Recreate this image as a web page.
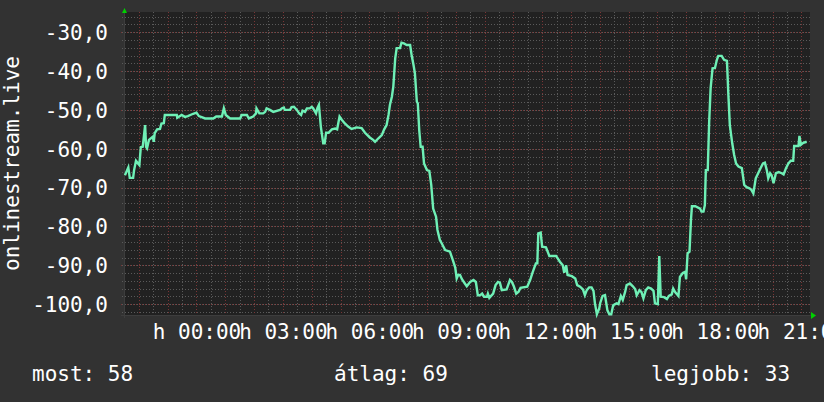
<!DOCTYPE html>
<html>
<head>
<meta charset="utf-8">
<script src="https://cdn.jsdelivr.net/npm/d3@7"></script>
<style>
  html, body { margin: 0; padding: 0; background: #323232; }
  svg { display: block; }
  text { font-family: 'DejaVu Sans Mono', monospace; fill: #ffffff; }
</style>
</head>
<body>
<div id="chart"></div>
<script>
// minutes from Monday 00:00 (negative = Sunday evening)
var minutes = [
  -149, -142, -139, -132, -130, -126, -119, -116, -112, -107, -105, -103, -99, -91, -89, -87, -82, -76, -73, -68,
  -66, -41, -40, -31, -24, -18, -7, 0, 5, 18, 35, 41, 53, 57, 61, 70, 91, 94, 105, 109,
  118, 124, 125, 131, 139, 143, 146, 153, 160, 174, 178, 182, 184, 195, 198, 203, 209, 214, 218, 221,
  226, 230, 236, 240, 243, 249, 252, 255, 259, 264, 267, 270, 275, 282, 289, 293, 298, 303, 309, 316,
  323, 334, 344, 351, 361, 368, 372, 379, 386, 391, 396, 400, 403, 407, 410, 414, 417, 424, 427, 432,
  438, 445, 448, 452, 455, 459, 461, 464, 467, 471, 474, 480, 485, 489, 493, 499, 502, 507, 511, 518,
  528, 534, 539, 542, 545, 549, 553, 559, 563, 570, 577, 582, 586, 591, 595, 599, 605, 607, 610, 618,
  623, 628, 632, 636, 646, 653, 657, 661, 666, 671, 675, 689, 695, 700, 707, 710, 712, 717, 720, 728,
  735, 749, 757, 763, 766, 770, 773, 782, 789, 793, 799, 805, 809, 813, 818, 823, 827, 830, 834, 839,
  841, 846, 851, 856, 860, 864, 868, 875, 879, 884, 888, 893, 896, 903, 909, 914, 917, 923, 927, 931,
  936, 941, 947, 952, 955, 961, 964, 967, 974, 980, 984, 990, 993, 997, 1004, 1007, 1013, 1018, 1020, 1023,
  1027, 1030, 1032, 1039, 1049, 1052, 1056, 1059, 1061, 1065, 1068, 1071, 1075, 1080, 1084, 1087, 1094, 1099, 1105, 1108,
  1111, 1116, 1120, 1124, 1129, 1136, 1141, 1146, 1152, 1156, 1160, 1165, 1170, 1175, 1180, 1184, 1188, 1191, 1195, 1198,
  1202, 1207, 1213, 1219, 1223, 1228, 1233, 1238, 1243, 1245, 1254, 1256, 1259, 1264, 1271
]
var values = [
  -66.8, -64.8, -67.5, -67.5, -65.5, -63.1, -64.2, -59.6, -59.5, -53.9, -59.5, -59.9, -57.7, -56.9, -58.2, -56.0, -55.0, -54.9, -53.5, -53.4,
  -51.3, -51.3, -52.0, -51.3, -51.8, -51.6, -51.0, -50.7, -51.6, -52.2, -52.2, -51.7, -51.7, -49.6, -51.3, -52.2, -52.2, -51.3, -51.3, -52.2,
  -51.7, -50.9, -49.6, -50.9, -50.9, -50.5, -49.6, -50.0, -50.5, -50.0, -49.6, -49.4, -50.0, -50.0, -49.3, -49.2, -50.0, -50.9, -51.3, -50.2,
  -50.5, -49.6, -49.6, -49.2, -49.6, -50.9, -49.5, -48.7, -54.3, -58.6, -58.6, -55.9, -55.9, -55.0, -54.8, -55.0, -51.7, -52.6, -53.5, -54.3,
  -54.9, -54.5, -54.7, -55.9, -57.1, -57.7, -58.2, -57.3, -56.5, -55.0, -53.9, -51.3, -48.7, -46.6, -44.0, -36.7, -34.1, -34.1, -32.7, -32.9,
  -33.3, -33.3, -35.8, -38.4, -40.6, -47.9, -48.3, -55.2, -59.5, -59.5, -63.8, -65.5, -65.7, -69.3, -75.4, -77.5, -80.9, -83.5, -84.4, -86.1,
  -86.5, -88.7, -90.6, -93.4, -92.5, -92.5, -93.6, -94.7, -95.4, -94.3, -93.8, -94.3, -97.7, -97.7, -97.3, -98.1, -98.1, -97.3, -98.4, -97.3,
  -95.1, -94.3, -94.5, -96.4, -96.2, -93.8, -94.3, -95.4, -97.3, -96.8, -95.8, -95.5, -93.8, -91.9, -89.5, -89.5, -81.8, -81.6, -85.2, -85.4,
  -87.6, -87.6, -89.1, -90.0, -91.9, -90.0, -92.5, -92.8, -93.4, -95.1, -95.5, -96.2, -97.7, -96.4, -95.7, -95.7, -96.6, -99.8, -102.6, -101.1,
  -99.7, -97.9, -97.7, -101.6, -102.6, -102.6, -100.3, -99.8, -100.0, -97.9, -98.9, -96.8, -95.1, -94.7, -95.4, -96.2, -97.7, -96.4, -96.9, -98.5,
  -96.4, -95.7, -96.0, -96.6, -99.8, -100.0, -87.6, -98.1, -98.2, -98.7, -97.9, -97.5, -96.0, -96.9, -97.9, -93.0, -92.0, -91.7, -93.6, -86.9,
  -86.5, -78.4, -74.8, -74.8, -75.4, -76.2, -76.2, -74.5, -65.5, -65.5, -53.0, -44.4, -39.3, -39.2, -37.1, -36.1, -36.1, -37.1, -37.4, -46.2,
  -53.9, -58.6, -61.6, -63.8, -64.6, -65.0, -69.3, -69.9, -70.2, -70.6, -71.5, -67.6, -66.3, -65.0, -63.8, -63.6, -65.5, -67.6, -66.3, -66.8,
  -68.9, -66.3, -66.0, -66.3, -66.6, -65.0, -63.8, -63.1, -63.1, -59.3, -59.3, -56.7, -59.0, -58.5, -58.2
]
var yTickValues = [-100, -90, -80, -70, -60, -50, -40, -30]
var axisTitle = 'onlinestream.live'
var legendLabels = ['most: 58', 'átlag: 69', 'legjobb: 33']

var totalWidth = 824
var totalHeight = 402
var margin = { top: 12, left: 124, right: 14, bottom: 87 }
var width = totalWidth - margin.left - margin.right
var height = totalHeight - margin.top - margin.bottom

var monday = new Date(2024, 0, 1)
var toDate = m => new Date(monday.getTime() + m * 60000)

var svg = d3
  .select('#chart')
  .append('svg')
  .attr('width', totalWidth)
  .attr('height', totalHeight)

svg
  .append('rect')
  .attr('width', totalWidth)
  .attr('height', totalHeight)
  .attr('fill', '#323232')

var g = svg
  .append('g')
  .attr('transform', `translate(${margin.left}, ${margin.top})`)

var xPositionScale = d3
  .scaleTime()
  .domain([toDate(-151), toDate(1278)])
  .range([0, width])
var yPositionScale = d3
  .scaleLinear()
  .domain([-102.8, -24.8])
  .range([height, 0])

g.append('rect')
  .attr('width', width)
  .attr('height', height)
  .attr('fill', '#212121')

// grid: minor every 30 min / 2 units, major every hour / 10 units
var minorX = d3.timeMinute.every(30).range(toDate(-151), toDate(1278))
var majorX = d3.timeHour.every(1).range(toDate(-151), toDate(1278))
var minorY = d3.range(-102, -24, 2)

g.selectAll('.minor-x')
  .data(minorX)
  .enter()
  .append('line')
  .attr('x1', d => Math.round(xPositionScale(d)) + 0.5)
  .attr('x2', d => Math.round(xPositionScale(d)) + 0.5)
  .attr('y1', 0)
  .attr('y2', height + 2)
  .attr('stroke', '#5a5a5a')
  .attr('stroke-dasharray', '1,2')

g.selectAll('.minor-y')
  .data(minorY)
  .enter()
  .append('line')
  .attr('x1', -2)
  .attr('x2', width)
  .attr('y1', d => Math.round(yPositionScale(d)) + 0.5)
  .attr('y2', d => Math.round(yPositionScale(d)) + 0.5)
  .attr('stroke', '#5a5a5a')
  .attr('stroke-dasharray', '1,2')

g.selectAll('.major-x')
  .data(majorX)
  .enter()
  .append('line')
  .attr('x1', d => Math.round(xPositionScale(d)) + 0.5)
  .attr('x2', d => Math.round(xPositionScale(d)) + 0.5)
  .attr('y1', 0)
  .attr('y2', height + 3)
  .attr('stroke', '#7a3535')
  .attr('stroke-dasharray', '1,2')

g.selectAll('.major-y')
  .data(yTickValues)
  .enter()
  .append('line')
  .attr('x1', -3)
  .attr('x2', width)
  .attr('y1', d => Math.round(yPositionScale(d)) + 0.5)
  .attr('y2', d => Math.round(yPositionScale(d)) + 0.5)
  .attr('stroke', '#7a3535')
  .attr('stroke-dasharray', '1,2')

// axis lines
g.append('line')
  .attr('x1', 0.5).attr('x2', 0.5)
  .attr('y1', -2).attr('y2', height + 3)
  .attr('stroke', '#3d3d3d')
g.append('line')
  .attr('x1', -3).attr('x2', width + 2)
  .attr('y1', height + 0.5).attr('y2', height + 0.5)
  .attr('stroke', '#3d3d3d')

// arrows
g.append('path')
  .attr('d', `M-2,1 L3,1 L0.5,-4 Z`)
  .attr('fill', '#00d000')
g.append('path')
  .attr('d', `M${width + 1},${height - 3} L${width + 1},${height + 4} L${width + 6},${height + 0.5} Z`)
  .attr('fill', '#00d000')

// the series
var datapoints = minutes.map((m, i) => ({ time: toDate(m), value: values[i] }))

var line = d3
  .line()
  .x(d => xPositionScale(d.time))
  .y(d => yPositionScale(d.value))

g.append('path')
  .datum(datapoints)
  .attr('d', line)
  .attr('fill', 'none')
  .attr('stroke', '#6ff0b6')
  .attr('stroke-width', 2.4)
  .attr('stroke-linejoin', 'miter')

// y axis
var commaFormat = d3.formatLocale({ decimal: ',', thousands: ' ', grouping: [3], currency: ['', ''] }).format('.1f')
var yAxis = d3
  .axisLeft(yPositionScale)
  .tickValues(yTickValues)
  .tickFormat(d => commaFormat(d).replace('−', '-'))
  .tickSize(0)
  .tickPadding(16)
g.append('g')
  .attr('class', 'axis y-axis')
  .call(yAxis)
  .call(s => s.select('.domain').remove())
  .selectAll('text')
  .attr('font-size', 21)
  .attr('font-family', 'DejaVu Sans Mono')
  .attr('fill', '#ffffff')
  .attr('dy', '0.35em')

// x axis
var xAxis = d3
  .axisBottom(xPositionScale)
  .ticks(d3.timeHour.every(3))
  .tickFormat(d => 'h ' + d3.timeFormat('%H:%M')(d))
  .tickSize(0)
  .tickPadding(0)
g.append('g')
  .attr('class', 'axis x-axis')
  .attr('transform', `translate(0, ${height})`)
  .call(xAxis)
  .call(s => s.select('.domain').remove())
  .selectAll('text')
  .attr('font-size', 21)
  .attr('font-family', 'DejaVu Sans Mono')
  .attr('fill', '#ffffff')
  .attr('dy', 0)
  .attr('y', 24)

// title
svg
  .append('text')
  .attr('transform', `translate(19, ${margin.top + height / 2}) rotate(-90)`)
  .attr('text-anchor', 'middle')
  .attr('font-size', 21)
  .text(axisTitle)

// legend
var legendX = [32, 334, 651]
svg
  .selectAll('.legend')
  .data(legendLabels)
  .enter()
  .append('text')
  .attr('class', 'legend')
  .attr('x', (d, i) => legendX[i])
  .attr('y', 381)
  .attr('font-size', 21)
  .text(d => d)
</script>
</body>
</html>
